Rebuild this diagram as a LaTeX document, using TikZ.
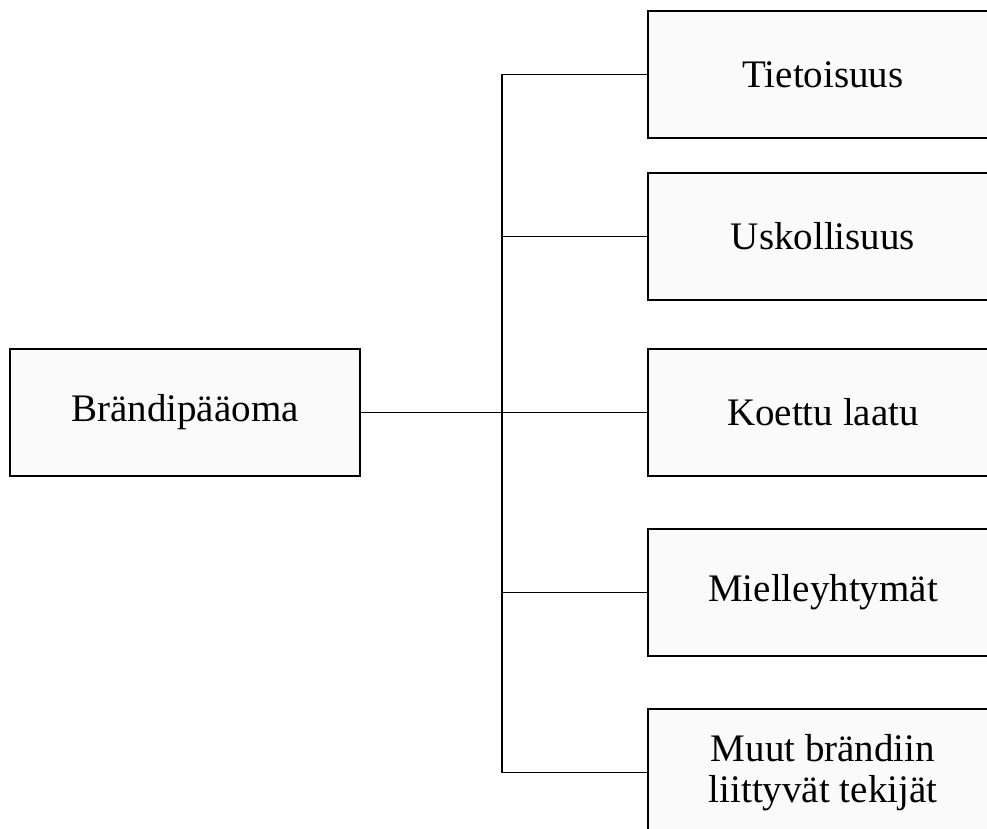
\documentclass[tikz,border=0pt]{standalone}
\usepackage{fontspec}
\setmainfont{Liberation Serif}
\definecolor{boxfill}{HTML}{FAFAFA}
\tikzset{
  box/.style={draw=black, fill=boxfill, line width=1.5pt, minimum width=350pt,
    minimum height=127pt, inner sep=0pt, align=center,
    font=\fontsize{39}{41}\selectfont},
  link/.style={line width=1.4pt, black}
}
\begin{document}
\begin{tikzpicture}[x=1pt, y=-1pt]
  \useasboundingbox (0,0) rectangle (987,828);
  \clip (0,0) rectangle (987,828);
  \fill[white] (0,0) rectangle (987,828);

  \node[box] (root) at (185,412.5) {Brändipääoma};
  \node[box] (b1) at (823,74.5) {Tietoisuus};
  \node[box] (b2) at (823,236.5) {Uskollisuus};
  \node[box] (b3) at (823,412.5) {Koettu laatu};
  \node[box] (b4) at (823,592.5) {Mielleyhtymät};
  \node[box] (b5) at (823,772.5) {Muut brändiin\\liittyvät tekijät};

  \coordinate (jn) at (502,412.5);

  \draw[link] (root.east) -- (b3.west);
  \draw[link] (b1.west) -- (b1.west -| jn) -- (b5.west -| jn) -- (b5.west);
  \draw[link] (b2.west) -- (b2.west -| jn);
  \draw[link] (b4.west) -- (b4.west -| jn);
\end{tikzpicture}
\end{document}
